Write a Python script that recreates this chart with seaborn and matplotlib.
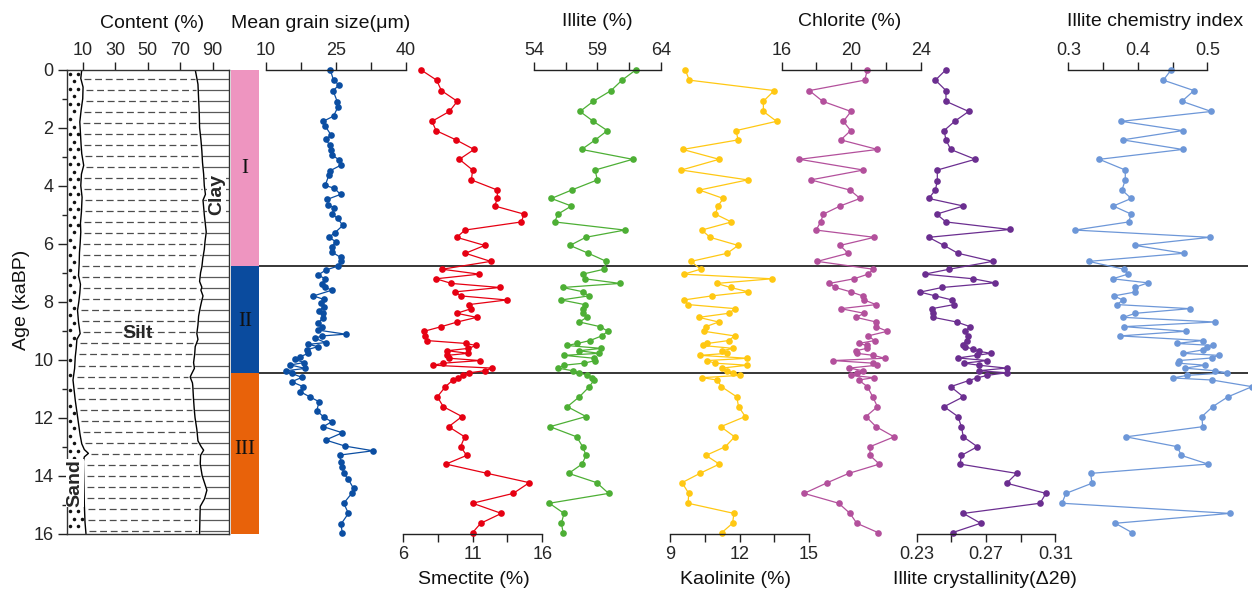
import numpy as np
import matplotlib
matplotlib.use("Agg")
import matplotlib.pyplot as plt
import seaborn as sns

# ---------------- data ----------------
zone_names = ["I", "II", "III"]
zone_top = [0.0, 6.76, 10.47]
zone_bot = [6.76, 10.47, 16.0]
zone_colors = ["#EE95C0", "#0A4B9E", "#E8620A"]
zone_label_age = [3.42, 8.69, 13.1]
boundaries = [6.76, 10.47]

# lithology (cumulative %)
sand_age = [0.0, 0.3, 0.6, 1.0, 1.4, 1.8, 2.2, 2.6, 2.9, 3.3, 3.6, 4.0, 4.4, 4.9, 5.3, 5.6, 6.0, 6.3,
            6.7, 7.1, 7.4, 7.7, 8.0, 8.3, 8.7, 9.1, 9.3, 9.6, 9.9, 10.3, 10.7, 11.0, 11.4, 11.8, 12.2,
            12.6, 12.9, 13.1, 13.23, 13.35, 13.5, 14.0, 14.5, 15.0, 15.6, 16.0]
sand_pct = [9.4, 8.8, 10.2, 10.0, 9.0, 8.2, 8.6, 9.0, 9.4, 10.6, 9.2, 8.8, 9.6, 9.2, 8.6, 8.8, 8.4, 8.0,
            7.8, 7.4, 8.6, 8.2, 7.6, 6.8, 7.4, 8.4, 6.4, 6.0, 5.4, 5.0, 4.0, 4.6, 5.4, 6.4, 7.4,
            8.4, 9.4, 11.0, 13.5, 11.0, 10.4, 10.6, 10.8, 11.0, 11.4, 12.0]
clay_age = [0.0, 0.2, 0.5, 1.0, 1.5, 2.0, 2.4, 2.8, 3.2, 3.6, 4.0, 4.3, 4.5, 4.8, 5.0, 5.3, 5.6, 5.9,
            6.2, 6.5, 6.8, 7.0, 7.3, 7.5, 7.6, 7.8, 8.0, 8.2, 8.5, 8.8, 9.1, 9.3, 9.55, 9.8, 10.1,
            10.3, 10.5, 10.6, 10.8, 10.9, 11.3, 11.7, 12.0, 12.4, 12.8, 13.0, 13.12, 13.3, 13.6,
            14.0, 14.5, 14.8, 15.06, 15.5, 16.0]
clay_pct = [79.3, 80.0, 81.0, 81.4, 81.8, 82.0, 82.8, 83.4, 83.8, 84.5, 84.9, 85.6, 84.1, 84.6, 84.9,
            85.5, 86.1, 85.4, 84.9, 84.0, 83.4, 82.6, 82.0, 83.4, 82.8, 84.1, 83.2, 82.4, 81.4, 81.0,
            80.3, 81.0, 79.3, 79.0, 78.3, 78.8, 77.0, 76.2, 77.6, 77.8, 78.2, 78.7, 79.2, 80.3, 81.0,
            83.0, 84.5, 82.6, 82.4, 83.6, 86.5, 85.0, 82.4, 82.2, 82.0]

gs_age = [0.00, 0.36, 0.53, 0.72, 1.10, 1.27, 1.60, 1.78, 1.94, 2.26, 2.40, 2.60, 2.77, 2.94, 3.11, 3.29,
          3.49, 3.64, 3.99, 4.09, 4.30, 4.47, 4.67, 4.76, 4.98, 5.13, 5.37, 5.62, 5.78, 5.93, 6.10, 6.28,
          6.47, 6.61, 6.77, 6.91, 7.08, 7.21, 7.39, 7.51, 7.60, 7.80, 7.92, 8.06, 8.17, 8.31, 8.40, 8.57,
          8.72, 8.86, 8.98, 9.12, 9.18, 9.26, 9.41, 9.47, 9.55, 9.66, 9.78, 9.90, 9.99, 10.10, 10.18,
          10.30, 10.38, 10.47, 10.61, 10.76, 10.93, 11.10, 11.28, 11.45, 11.76, 11.99, 12.14, 12.31,
          12.52, 12.77, 12.98, 13.14, 13.29, 13.52, 13.69, 13.92, 14.13, 14.44, 14.61, 14.95, 15.30,
          15.67, 15.99]
gs_val = [23.8, 24.5, 25.7, 24.4, 25.3, 25.5, 24.5, 22.3, 22.7, 24.0, 22.8, 23.7, 24.0, 24.2, 25.7, 26.1,
          23.7, 23.5, 22.7, 24.7, 26.0, 23.2, 23.4, 24.7, 24.2, 25.4, 26.5, 24.8, 23.5, 25.0, 24.1, 24.1,
          26.0, 26.2, 25.5, 22.8, 21.2, 22.7, 22.0, 22.7, 24.2, 20.2, 22.4, 21.8, 22.4, 21.4, 22.3, 22.2,
          21.2, 22.0, 21.2, 27.1, 22.1, 20.5, 22.8, 19.1, 21.2, 18.7, 19.1, 17.3, 16.2, 18.2, 15.2,
          18.4, 14.4, 15.5, 17.7, 15.5, 18.0, 17.3, 19.4, 21.4, 20.9, 22.5, 24.1, 22.3,
          26.4, 22.8, 27.0, 33.0, 25.8, 26.1, 26.4, 26.7, 27.7, 28.8, 28.4, 26.7, 27.7,
          26.1, 26.4]

clay_min_age = [0.00, 0.36, 0.72, 1.09, 1.44, 1.78, 2.10, 2.42, 2.75, 3.09, 3.46, 3.80, 4.15, 4.44, 4.70,
                4.98, 5.25, 5.53, 5.78, 6.06, 6.33, 6.61, 6.88, 7.05, 7.21, 7.37, 7.51, 7.66, 7.80, 7.94,
                8.10, 8.24, 8.40, 8.54, 8.70, 8.86, 9.02, 9.18, 9.34, 9.44, 9.51, 9.61, 9.69, 9.78, 9.85,
                9.95, 10.03, 10.12, 10.19, 10.29, 10.38, 10.45, 10.54, 10.62, 10.70, 10.93, 11.28, 11.62,
                11.96, 12.31, 12.66, 13.00, 13.30, 13.60, 13.92, 14.24, 14.61, 14.95, 15.30, 15.64, 15.96]
smectite = [7.29, 8.43, 8.77, 9.91, 9.34, 8.10, 8.39, 9.82, 11.11, 10.06, 11.01, 10.92, 12.78, 12.78, 12.59,
            14.69, 14.50, 10.46, 9.87, 11.87, 10.49, 12.30, 8.82, 11.49, 8.39, 9.49, 12.97, 9.77, 10.15, 13.45,
            10.73, 10.92, 9.87, 11.30, 9.91, 8.77, 7.53, 7.60, 7.72, 10.54, 11.25, 10.70, 9.20, 10.70, 9.20,
            9.34, 11.54, 8.91, 8.20, 12.40, 11.90, 10.77, 10.34, 9.99, 9.60, 9.06, 8.48, 8.91,
            10.25, 9.29, 10.44, 10.15, 10.58, 9.10, 12.06, 15.07, 13.92, 11.01, 13.07, 11.59, 11.01]
illite = [62.05, 60.95, 60.08, 58.68, 57.63, 58.68, 59.79, 58.84, 57.76, 61.79, 58.82, 59.00, 56.97, 55.37,
          56.95, 55.89, 55.63, 61.16, 58.08, 56.84, 58.29, 59.71, 59.53, 57.84, 58.00, 60.79, 56.26, 57.89,
          58.32, 56.16, 58.00, 57.84, 57.89, 58.16, 57.58, 59.21, 59.84, 59.34, 58.42, 57.42, 56.58, 59.32,
          57.53, 59.16, 56.37, 58.74, 58.84, 57.95, 56.37, 55.89, 57.05, 57.58, 58.21, 58.58, 58.74,
          58.37, 57.58, 56.63, 58.11, 55.26, 57.37, 57.84, 58.11, 57.79, 56.74, 58.95, 59.89, 55.21,
          56.37, 56.16, 56.30]
kaolinite = [9.66, 9.83, 13.50, 13.03, 13.03, 13.60, 11.85, 11.94, 9.55, 11.12, 9.49, 12.35, 10.27, 11.30,
             11.07, 10.96, 11.65, 10.37, 10.73, 11.94, 11.47, 9.91, 10.32, 9.60, 13.40, 11.01, 11.62, 12.38,
             10.80, 9.60, 9.79, 11.82, 11.53, 10.24, 11.10, 10.55, 10.47, 11.79, 11.53, 10.61, 10.41, 11.73,
             11.24, 11.47, 10.30, 12.34, 10.61, 10.93, 12.34, 11.24, 11.47, 11.71, 12.02, 10.38, 11.04,
             11.22, 11.88, 11.96, 12.25, 11.19, 11.79, 11.39, 10.55, 11.13, 10.29, 9.52, 9.81, 9.78,
             11.76, 11.70, 11.24]
chlorite = [20.93, 20.78, 17.59, 18.36, 19.99, 19.55, 19.97, 19.40, 21.51, 17.02, 20.70, 17.67, 19.93, 20.51,
            19.36, 18.40, 18.24, 17.98, 21.33, 19.36, 19.82, 18.05, 21.28, 20.97, 20.16, 18.74, 19.09, 19.97,
            20.66, 20.74, 21.43, 19.40, 20.74, 20.28, 21.43, 21.43, 22.08, 20.97, 21.35, 20.43, 20.93, 20.89,
            20.28, 20.32, 21.28, 21.93, 18.97, 21.28, 21.47, 19.89, 20.66, 20.35, 19.97, 21.31, 20.43,
            20.93, 21.24, 21.51, 20.85, 21.43, 22.47, 21.08, 21.08, 21.62, 19.86, 18.63, 17.29, 19.28,
            19.93, 20.32, 21.54]

ic_age = [0.00, 0.36, 0.72, 1.09, 1.44, 1.78, 2.10, 2.42, 2.75, 3.09, 3.46, 3.83, 4.15, 4.44, 4.70, 4.98,
          5.25, 5.51, 5.78, 6.06, 6.33, 6.61, 6.88, 7.05, 7.21, 7.35, 7.51, 7.67, 7.80, 7.94, 8.10, 8.24,
          8.40, 8.54, 8.70, 8.86, 9.02, 9.18, 9.34, 9.49, 9.55, 9.64, 9.71, 9.78, 9.85, 9.94, 10.03, 10.12,
          10.19, 10.29, 10.38, 10.45, 10.54, 10.63, 10.72, 10.93, 11.28, 11.62, 11.96, 12.31, 12.66, 13.00,
          13.30, 13.60, 13.92, 14.26, 14.61, 14.95, 15.30, 15.64, 15.96]
crystallinity = [0.2469, 0.2408, 0.2469, 0.2469, 0.2600, 0.2519, 0.2458, 0.2469, 0.2496, 0.2638, 0.2419,
                 0.2419, 0.2408, 0.2369, 0.2569, 0.2415, 0.2469, 0.2838, 0.2369, 0.2458, 0.2538, 0.2738,
                 0.2488, 0.2346, 0.2627, 0.2750, 0.2446, 0.2319, 0.2408, 0.2504, 0.2515, 0.2388, 0.2396,
                 0.2396, 0.2531, 0.2608, 0.2581, 0.2596, 0.2588, 0.2565, 0.2577, 0.2627, 0.2658, 0.2727,
                 0.2646, 0.2538, 0.2708, 0.2573, 0.2658, 0.2819, 0.2658, 0.2819, 0.2708, 0.2646, 0.2600,
                 0.2496, 0.2569, 0.2458, 0.2538, 0.2558, 0.2569, 0.2650, 0.2558, 0.2550, 0.2877, 0.2819,
                 0.3046, 0.3012, 0.2569, 0.2669, 0.2508]

ci_age = [0.00, 0.36, 0.72, 1.09, 1.44, 1.78, 2.10, 2.42, 2.75, 3.09, 3.46, 3.80, 4.15, 4.44, 4.70, 4.98,
          5.25, 5.53, 5.78, 6.06, 6.33, 6.61, 6.88, 7.05, 7.21, 7.35, 7.51, 7.67, 7.80, 7.94, 8.10, 8.24,
          8.40, 8.54, 8.70, 8.86, 9.02, 9.18, 9.34, 9.44, 9.51, 9.57, 9.66, 9.78, 9.85, 9.94, 10.03, 10.12,
          10.19, 10.29, 10.38, 10.45, 10.54, 10.63, 10.70, 10.93, 11.28, 11.62, 11.96, 12.31, 12.66, 13.00,
          13.30, 13.60, 13.92, 14.26, 14.61, 14.95, 15.30, 15.64, 15.96]
chem_index = [0.4482, 0.4367, 0.4808, 0.4635, 0.5057, 0.3763, 0.4645, 0.3782, 0.4645, 0.3446, 0.3820,
              0.3820, 0.3772, 0.3906, 0.3647, 0.3906, 0.3868, 0.3096, 0.5038, 0.3964, 0.4664, 0.3293,
              0.3801, 0.3858, 0.3638, 0.4146, 0.3954, 0.3954, 0.3657, 0.3782, 0.3705, 0.4751, 0.3964,
              0.3791, 0.5105, 0.3801, 0.4693, 0.3743, 0.4933, 0.4559, 0.5086, 0.4990, 0.4942, 0.4645,
              0.5163, 0.5067, 0.4588, 0.4578, 0.4971, 0.4674, 0.5105, 0.5288, 0.4712, 0.4501, 0.5067,
              0.5643, 0.5297, 0.5077, 0.4923, 0.4933, 0.3830, 0.4568, 0.4626, 0.5010, 0.3321, 0.3341,
              0.2966, 0.2909, 0.5326, 0.3676, 0.3916]

# ---------------- styling ----------------
sns.set_theme(style="white")
plt.rcParams["font.family"] = ["Liberation Sans", "DejaVu Sans"]
plt.rcParams["axes.linewidth"] = 1.0

W, H = 1252, 596
Y0, Y16 = 69.7, 533.7
SPINE = "#222222"
fig = plt.figure(figsize=(W / 100, H / 100), dpi=100)


def add_ax(x0, x1):
    return fig.add_axes([x0 / W, 1 - Y16 / H, (x1 - x0) / W, (Y16 - Y0) / H])


def ftext(x, y, s, **kw):
    fig.text(x / W, 1 - y / H, s, ha="center", va="center", **kw)


# background line axis (zone boundaries)
axl = add_ax(259, 1248)
axl.set_ylim(16, 0)
axl.set_xlim(0, 1)
axl.axis("off")
for b in boundaries:
    axl.axhline(b, color="black", lw=1.1)

# ---------------- content / lithology ----------------
axc = add_ax(66.5, 228.8)
axc.set_xlim(0, 100)
axc.set_ylim(16, 0)
for s in axc.spines.values():
    s.set_color("#333333")
    s.set_linewidth(1.0)
axc.xaxis.tick_top()
axc.set_xticks([10, 30, 50, 70, 90])
axc.set_yticks(range(0, 17, 2))
axc.set_yticks(range(1, 17, 2), minor=True)
axc.tick_params(axis="x", which="major", direction="out", length=6, width=1.0, pad=2,
                labelsize=13, color=SPINE, top=True, bottom=False)
axc.tick_params(axis="y", which="major", direction="out", length=6.5, width=1.0, pad=3,
                labelsize=13, color=SPINE, left=True)
axc.tick_params(axis="y", which="minor", direction="out", length=3.5, width=1.0, color=SPINE, left=True)

lv = np.arange(0.32, 16, 0.38)
s_at = np.interp(lv, sand_age, sand_pct)
c_at = np.interp(lv, clay_age, clay_pct)
axc.hlines(lv, s_at + 2.0, c_at - 1.5, colors="#4d4d4d", lw=0.9, linestyles=(0, (5.5, 3)))
axc.hlines(lv, c_at, 100, colors="#5a5a5a", lw=0.9)

rows = np.arange(0.14, 16, 0.26)
dx, dy = [], []
for i, r in enumerate(rows):
    off = 2.5 if i % 2 else 0.0
    for cx in np.arange(2.3 + off, 16, 5.0):
        if cx < np.interp(r, sand_age, sand_pct) - 1.3:
            dx.append(cx)
            dy.append(r)
axc.scatter(dx, dy, s=6.5, color="#111111", linewidths=0)
axc.plot(sand_pct, sand_age, color="black", lw=1.0)
axc.plot(clay_pct, clay_age, color="black", lw=1.0)

axc.text(44, 9.1, "Silt", fontsize=14, fontweight="bold", ha="center", va="center")
axc.text(92.3, 4.3, "Clay", fontsize=14, fontweight="bold", ha="center", va="center", rotation=90,
         bbox=dict(facecolor="white", edgecolor="none", pad=0.5))
axc.text(5.2, 14.25, "Sand", fontsize=14, fontweight="bold", ha="center", va="center", rotation=90,
         bbox=dict(facecolor="white", edgecolor="none", pad=0.3))

# ---------------- zones ----------------
axz = add_ax(230.7, 259)
axz.set_ylim(16, 0)
axz.set_xlim(-0.5, 0.5)
axz.axis("off")
axz.bar([0, 0, 0], np.array(zone_bot) - np.array(zone_top), bottom=zone_top, width=1.0,
        color=zone_colors, linewidth=0)
for nm, ag in zip(zone_names, zone_label_age):
    axz.text(0, ag, nm, fontsize=15, ha="center", va="center", family="Liberation Serif", color="#111111")

# ---------------- series panels ----------------
panels = [
    dict(age=gs_age, val=gs_val, color="#0B4EA2", p=(266, 405.7), v=(10, 40), side="top",
         ticks=[10, 17.5, 25, 32.5, 40], labels=["10", "", "25", "", "40"]),
    dict(age=clay_min_age, val=smectite, color="#E60012", p=(402.7, 542.3), v=(6, 16), side="bottom",
         ticks=[6, 8.5, 11, 13.5, 16], labels=["6", "", "11", "", "16"]),
    dict(age=clay_min_age, val=illite, color="#4DAF35", p=(534, 660.7), v=(54, 64), side="top",
         ticks=[54, 56.5, 59, 61.5, 64], labels=["54", "", "59", "", "64"]),
    dict(age=clay_min_age, val=kaolinite, color="#FFC813", p=(670, 809), v=(9, 15), side="bottom",
         ticks=[9, 10.5, 12, 13.5, 15], labels=["9", "", "12", "", "15"]),
    dict(age=clay_min_age, val=chlorite, color="#B3509C", p=(781.7, 920.7), v=(16, 24), side="top",
         ticks=[16, 18, 20, 22, 24], labels=["16", "", "20", "", "24"]),
    dict(age=ic_age, val=crystallinity, color="#6B2E90", p=(916.7, 1055.3), v=(0.23, 0.31), side="bottom",
         ticks=[0.23, 0.25, 0.27, 0.29, 0.31], labels=["0.23", "", "0.27", "", "0.31"]),
    dict(age=ci_age, val=chem_index, color="#6D97D8", p=(1068.3, 1207.3), v=(0.3, 0.5), side="top",
         ticks=[0.3, 0.35, 0.4, 0.45, 0.5], labels=["0.3", "", "0.4", "", "0.5"], right=1252),
]

for pn in panels:
    p0, p1 = pn["p"]
    v0, v1 = pn["v"]
    pr = pn.get("right", p1)
    ax = add_ax(p0, pr)
    ax.patch.set_alpha(0)
    hi = v0 + (pr - p0) * (v1 - v0) / (p1 - p0)
    sns.lineplot(x=pn["val"], y=pn["age"], sort=False, estimator=None, ax=ax, color=pn["color"],
                 lw=0.9, marker="o", markersize=4.8, markeredgewidth=0, markeredgecolor=pn["color"],
                 clip_on=False)
    ax.set_xlim(v0, hi)
    ax.set_ylim(16, 0)
    ax.set_xlabel("")
    ax.set_ylabel("")
    ax.set_yticks([])
    side = pn["side"]
    for k, s in ax.spines.items():
        s.set_visible(k == side)
    ax.spines[side].set_bounds(v0, v1)
    ax.spines[side].set_color(SPINE)
    ax.set_xticks(pn["ticks"])
    ax.set_xticklabels(pn["labels"])
    if side == "top":
        ax.xaxis.tick_top()
        ax.tick_params(axis="x", direction="out", length=6, width=1.0, pad=2, labelsize=13, color=SPINE,
                       top=True, bottom=False)
    else:
        ax.xaxis.tick_bottom()
        ax.tick_params(axis="x", direction="out", length=5.5, width=1.0, pad=3, labelsize=13, color=SPINE,
                       top=False, bottom=True)

# ---------------- titles ----------------
tkw = dict(fontsize=14, color="#111111")
ftext(152, 23, "Content (%)", **tkw)
ftext(321, 23, "Mean grain size(μm)", **tkw)
ftext(597, 21, "Illite (%)", **tkw)
ftext(850, 21, "Chlorite (%)", **tkw)
ftext(1155, 21, "Illite chemistry index", **tkw)
ftext(474, 580, "Smectite (%)", **tkw)
ftext(736, 580, "Kaolinite (%)", **tkw)
ftext(985, 580, "Illite crystallinity(Δ2θ)", **tkw)
ftext(22, 300, "Age (kaBP)", rotation=90, **tkw)

fig.savefig("out.png", dpi=100)
